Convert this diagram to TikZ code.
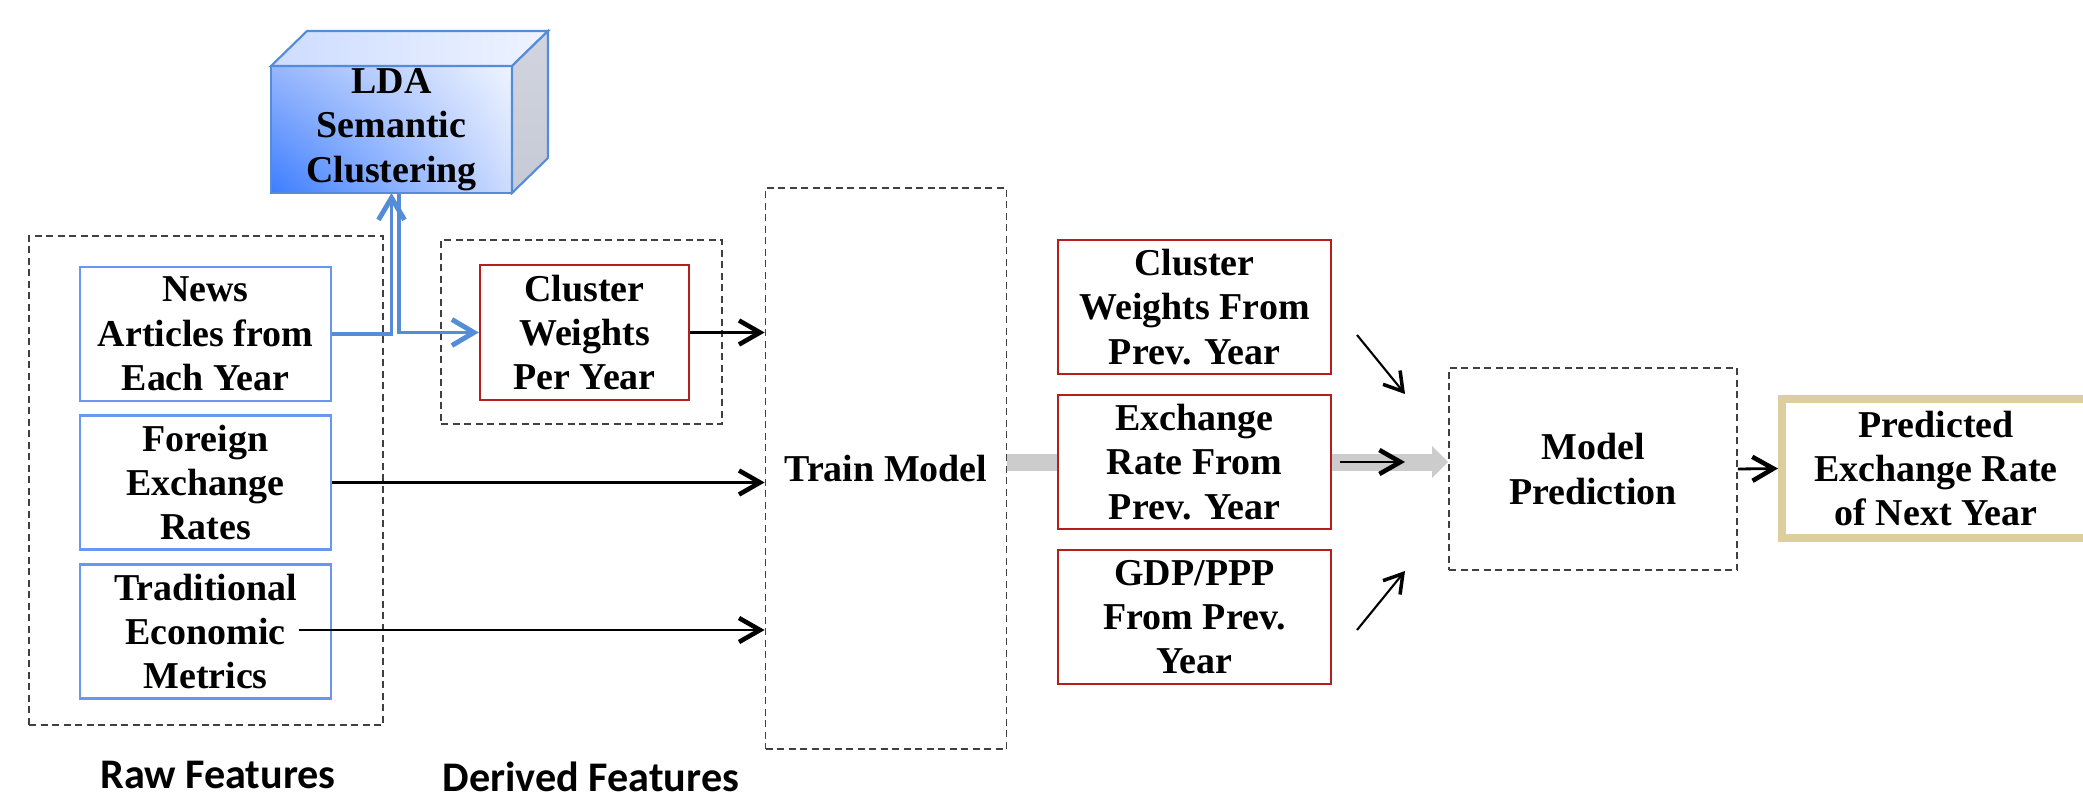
\documentclass[tikz,border=0pt]{standalone}
\usepackage{fontspec}
\setmainfont{Liberation Serif}
\newfontfamily\labelfont{Carlito}
\usepackage{tikz}
\usetikzlibrary{arrows.meta, positioning, calc, shadings, backgrounds}
\definecolor{boxblue}{RGB}{105, 150, 240}
\definecolor{linkblue}{RGB}{85, 140, 215}
\definecolor{featred}{RGB}{180, 30, 30}
\definecolor{outtan}{RGB}{221, 206, 160}
\definecolor{flowgray}{RGB}{204, 204, 204}
\definecolor{ldadeep}{RGB}{60, 125, 255}
\definecolor{ldamid}{RGB}{150, 182, 252}
\definecolor{ldalight}{RGB}{205, 220, 255}
\definecolor{ldapale}{RGB}{238, 243, 255}
\definecolor{ldaside}{RGB}{198, 202, 214}

\begin{document}
\begin{tikzpicture}[x=0.1mm, y=-0.1mm,
    txt/.style={font=\fontsize{10.8}{12.6}\selectfont\bfseries, align=center, inner sep=0pt},
    rawbox/.style={txt, draw=boxblue, fill=white, line width=0.8pt, minimum width=25.1mm, minimum height=13.4mm},
    featbox/.style={txt, draw=featred, fill=white, line width=0.7pt, minimum height=13.4mm},
    groupbox/.style={draw=black!75, dash pattern=on 0.7mm off 0.45mm, line width=0.5pt, inner sep=0pt},
    feed/.style={line width=0.8pt, -{Straight Barb[length=2.1mm, width=2.4mm, line width=1.3pt]}},
    thinfeed/.style={line width=0.6pt, -{Straight Barb[length=1.8mm, width=2.2mm, line width=1pt]}},
    bluefeed/.style={draw=linkblue, line width=0.9pt, -{Straight Barb[length=2.2mm, width=2.6mm, line width=1.4pt]}},
    caption/.style={font=\labelfont\fontsize{12}{14}\selectfont\bfseries, anchor=base}]
    \useasboundingbox (0,0) rectangle (2083,799);

    % Raw features
    \node[groupbox, minimum width=35.4mm, minimum height=48.9mm] (rawgroup) at (206,480.5) {};
    \node[rawbox] (news) at (205.5,334) {News\\Articles from\\Each Year};
    \node[rawbox] (forex) at (205.5,482.5) {Foreign\\Exchange\\Rates};
    \node[rawbox] (trad) at (205.5,631.5) {Traditional\\Economic\\Metrics};

    % LDA block
    \node[txt, draw=linkblue, line width=0.6pt, outer sep=0pt, minimum width=24.1mm, minimum height=12.7mm,
        lower left=ldadeep, upper left=ldamid, lower right=ldalight, upper right=ldapale] (lda) at (391.5,129.5) {LDA\\Semantic\\Clustering};
    \shade[draw=linkblue, line width=0.6pt, left color=ldalight, right color=ldapale]
        (lda.north west) -- ++(36,-35) -- ($(lda.north east)+(36,-35)$) -- (lda.north east) -- cycle;
    \shade[draw=linkblue, line width=0.6pt, top color=ldaside!80, bottom color=ldaside]
        (lda.north east) -- ++(36,-35) -- ($(lda.south east)+(36,-35)$) -- (lda.south east) -- cycle;

    % Derived features
    \node[groupbox, minimum width=28.1mm, minimum height=18.4mm] (derivedgroup) at (581.5,332) {};
    \node[featbox, minimum width=20.9mm, minimum height=13.5mm] (cwyear) at (584.5,332.5) {Cluster\\Weights\\Per Year};

    % Training and prediction
    \node[groupbox, txt, minimum width=24.1mm, minimum height=56.1mm] (train) at (886,468.5) {Train Model};
    \node[featbox, minimum width=27.3mm] (cwprev) at (1194.5,307) {Cluster\\Weights From\\Prev. Year};
    \node[featbox, minimum width=27.3mm] (xrprev) at (1194.5,462) {Exchange\\Rate From\\Prev. Year};
    \node[featbox, minimum width=27.3mm] (gdpprev) at (1194.5,617) {GDP/PPP\\From Prev.\\Year};
    \node[groupbox, txt, minimum width=28.8mm, minimum height=20.2mm] (predict) at (1593,469) {Model\\Prediction};
    \node[txt, draw=outtan, line width=0.8mm, minimum width=30.8mm, minimum height=13.9mm] (result) at (1936,468.5) {Predicted\\Exchange Rate\\of Next Year};

    % Gray flow behind the boxes
    \begin{scope}[on background layer]
        \draw[flowgray, line width=1.7mm, -{Triangle[length=1.6mm, width=3.2mm, line width=0pt]}]
            (train.east |- xrprev.center) -- (predict.west |- xrprev.center);
    \end{scope}

    % Blue links
    \draw[bluefeed] (news.east) -| (lda.south);
    \draw[bluefeed] ([xshift=0.75mm]lda.south) |- (cwyear.west);

    % Inputs to training
    \coordinate (tradout) at (299,630);
    \draw[feed] (cwyear.east) -- (cwyear.east -| train.west);
    \draw[feed] (forex.east) -- (forex.east -| train.west);
    \draw[feed] (tradout) -- (tradout -| train.west);

    % Inputs to prediction
    \coordinate (cwtail) at (1357,335);
    \coordinate (cwhead) at (1405,394);
    \coordinate (xrtail) at (1340,462);
    \coordinate (xrhead) at (1405,462);
    \coordinate (gdptail) at (1357,630);
    \coordinate (gdphead) at (1405,571);
    \draw[thinfeed] (cwtail) -- (cwhead);
    \draw[feed] (xrtail) -- (xrhead);
    \draw[thinfeed] (gdptail) -- (gdphead);
    \draw[feed] (predict.east) -- (result.west);

    % Captions
    \node[caption] (rawlabel) at (218,788) {Raw Features};
    \node[caption] (derivedlabel) at (591,791) {Derived Features};

\end{tikzpicture}
\end{document}
